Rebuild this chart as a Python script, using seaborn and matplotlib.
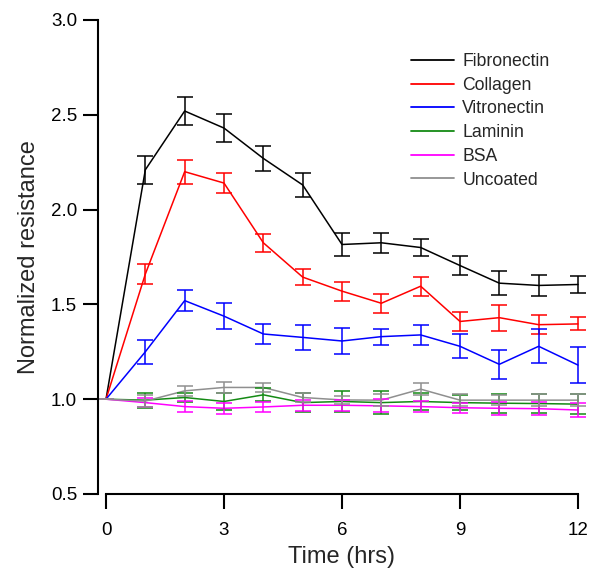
import numpy as np
import pandas as pd
import matplotlib
matplotlib.use("Agg")
import matplotlib.pyplot as plt
import seaborn as sns

time_hrs = list(range(13))

fibronectin = [1.00, 2.21, 2.52, 2.43, 2.27, 2.13, 1.816, 1.825, 1.80, 1.705, 1.612, 1.60, 1.605]
fibronectin_err = [0.0, 0.074, 0.075, 0.074, 0.065, 0.065, 0.063, 0.052, 0.047, 0.05, 0.063, 0.057, 0.047]

collagen = [1.00, 1.66, 2.20, 2.14, 1.825, 1.644, 1.57, 1.506, 1.596, 1.41, 1.43, 1.393, 1.397]
collagen_err = [0.0, 0.055, 0.064, 0.052, 0.048, 0.043, 0.05, 0.05, 0.05, 0.048, 0.069, 0.05, 0.034]

vitronectin = [1.00, 1.25, 1.52, 1.438, 1.344, 1.326, 1.307, 1.33, 1.339, 1.279, 1.184, 1.279, 1.18]
vitronectin_err = [0.0, 0.062, 0.055, 0.07, 0.053, 0.065, 0.066, 0.042, 0.051, 0.063, 0.078, 0.09, 0.093]

laminin = [1.00, 0.995, 1.009, 0.988, 1.023, 0.982, 0.988, 0.982, 0.988, 0.982, 0.979, 0.977, 0.974]
laminin_err = [0.0, 0.04, 0.025, 0.044, 0.035, 0.05, 0.055, 0.06, 0.047, 0.04, 0.05, 0.048, 0.053]

bsa = [1.00, 0.982, 0.961, 0.952, 0.959, 0.968, 0.968, 0.965, 0.961, 0.955, 0.952, 0.95, 0.943]
bsa_err = [0.0, 0.025, 0.027, 0.03, 0.027, 0.03, 0.03, 0.034, 0.031, 0.026, 0.035, 0.034, 0.035]

uncoated = [1.00, 0.99, 1.044, 1.062, 1.062, 1.009, 0.996, 0.995, 1.053, 0.995, 0.995, 0.995, 0.995]
uncoated_err = [0.0, 0.03, 0.025, 0.03, 0.025, 0.025, 0.02, 0.03, 0.03, 0.03, 0.028, 0.03, 0.03]

series_names = ["Fibronectin", "Collagen", "Vitronectin", "Laminin", "BSA", "Uncoated"]
series_vals = [fibronectin, collagen, vitronectin, laminin, bsa, uncoated]
series_errs = [fibronectin_err, collagen_err, vitronectin_err, laminin_err, bsa_err, uncoated_err]
colors = ["#000000", "#ff0000", "#0000ff", "#148a14", "#ff00ff", "#8f8f8f"]

rows = []
for name, vals, errs in zip(series_names, series_vals, series_errs):
    for t, v, e in zip(time_hrs, vals, errs):
        rows.append({"Time": t, "Value": v, "Err": e, "Series": name})
df = pd.DataFrame(rows)

sns.set_theme(style="ticks")
plt.rcParams["font.family"] = ["Liberation Sans", "DejaVu Sans"]

W, H = 592, 569
fig = plt.figure(figsize=(W / 100, H / 100), dpi=100)
ax = fig.add_axes([106 / W, 1 - 494 / H, (578 - 106) / W, (494 - 20) / H])

palette = dict(zip(series_names, colors))
sns.lineplot(data=df, x="Time", y="Value", hue="Series", hue_order=series_names,
             palette=palette, linewidth=1.1, ax=ax, legend=True)

for name in series_names:
    sub = df[df["Series"] == name]
    eb = ax.errorbar(sub["Time"], sub["Value"], yerr=sub["Err"], fmt="none",
                     ecolor=palette[name], elinewidth=1.1, capsize=5.8, capthick=1.1)
    for art in eb.lines[1]:
        art.set_clip_on(False)
    for art in eb.lines[2]:
        art.set_clip_on(False)
for ln in ax.lines:
    ln.set_clip_on(False)

ax.set_xlim(0, 12)
ax.set_ylim(0.5, 3.0)
ax.set_xticks([0, 3, 6, 9, 12])
ax.set_yticks([0.5, 1.0, 1.5, 2.0, 2.5, 3.0])
ax.set_yticklabels(["0.5", "1.0", "1.5", "2.0", "2.5", "3.0"])
ax.set_xlabel("Time (hrs)", fontsize=17, labelpad=5)
ax.set_ylabel("Normalized resistance", fontsize=17, labelpad=8)
ax.tick_params(axis="both", labelsize=13.5, length=11, width=1.5, color="black", labelcolor="black")
ax.tick_params(axis="y", pad=4)
ax.tick_params(axis="x", pad=9)

sns.despine(ax=ax)
ax.spines["left"].set_position(("outward", 5.8))
for s in ["left", "bottom"]:
    ax.spines[s].set_linewidth(1.5)
    ax.spines[s].set_color("black")

leg = ax.legend(loc="upper left", bbox_to_anchor=(411 / W, 1 - 53 / H),
                bbox_transform=fig.transFigure, frameon=False, fontsize=12.7,
                handlelength=2.45, handletextpad=0.45, labelspacing=0.38,
                borderpad=0, borderaxespad=0, title=None)
for line in leg.get_lines():
    line.set_linewidth(1.3)

fig.savefig("out.png", dpi=100)
